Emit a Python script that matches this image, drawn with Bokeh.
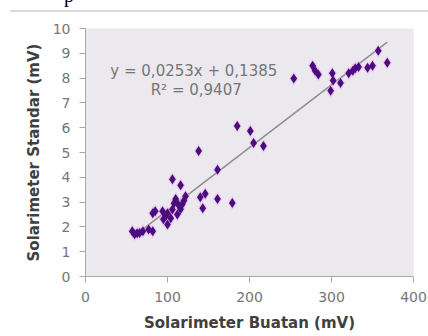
from bokeh.plotting import figure
from bokeh.models import Range1d, FixedTicker, Label, Div
from bokeh.layouts import column
from bokeh.embed import file_html
from bokeh.resources import INLINE

# data
buatan = [254, 277, 280, 284, 299, 301, 302, 311, 321, 326, 329, 333, 344, 350, 357, 368,
          138, 185, 201, 205, 217, 161,
          106, 116, 122, 110, 113, 106, 100, 94, 85, 82, 95, 100, 104, 112, 116, 118,
          140, 146, 143, 161, 179, 63, 70, 77, 82, 57, 60, 66, 108, 120, 98]
standar = [7.98, 8.5, 8.3, 8.15, 7.49, 8.2, 7.9, 7.8, 8.2, 8.3, 8.4, 8.45, 8.42, 8.5, 9.1, 8.62,
           5.06, 6.07, 5.87, 5.38, 5.26, 4.3,
           3.92, 3.68, 3.24, 3.12, 2.9, 2.7, 2.55, 2.63, 2.63, 2.55, 2.31, 2.1, 2.35, 2.5, 2.71, 2.91,
           3.2, 3.34, 2.75, 3.12, 2.96, 1.74, 1.82, 1.9, 1.82, 1.82, 1.7, 1.75, 2.95, 3.05, 2.45]
slope = 0.0253
intercept = 0.1385
r2 = 0.9407
x_ticks = [0, 100, 200, 300, 400]
y_ticks = list(range(0, 11))

top = Div(width=428, height=16, margin=0,
          text='<div style="position:relative;width:428px;height:16px;overflow:hidden;margin:0;padding:0">'
               '<div style="position:absolute;left:10px;top:10px;width:418px;height:2px;background:#dadada"></div>'
               '<span style="position:absolute;left:64px;top:-15px;font-family:\'Liberation Serif\';'
               'font-size:20px;line-height:20px;color:#000">p</span></div>')

p = figure(width=428, height=320, output_backend="svg", toolbar_location=None,
           x_range=Range1d(0, 400), y_range=Range1d(0, 10),
           min_border_left=85, min_border_right=15, min_border_top=12, min_border_bottom=60)
p.background_fill_color = "#ebe8ee"
p.border_fill_color = "white"
p.outline_line_color = None
p.grid.visible = False

tick_col = "#767676"
for ax in (p.xaxis[0], p.yaxis[0]):
    ax.axis_line_color = "#a8a8a8"
    ax.major_tick_line_color = "#a8a8a8"
    ax.minor_tick_line_color = None
    ax.major_tick_in = 0
    ax.major_tick_out = 6
    ax.major_label_text_font = "DejaVu Sans"
    ax.major_label_text_font_size = "14px"
    ax.major_label_text_color = tick_col
    ax.axis_label_text_font = "DejaVu Sans"
    ax.axis_label_text_font_size = "15px"
    ax.axis_label_text_font_style = "bold"
    ax.axis_label_text_color = "#404040"
    ax.major_label_standoff = 9

p.xaxis.ticker = FixedTicker(ticks=x_ticks)
p.yaxis.ticker = FixedTicker(ticks=y_ticks)
p.xaxis.axis_label = "Solarimeter Buatan (mV)"
p.yaxis.axis_label = "Solarimeter Standar (mV)"
p.xaxis.axis_label_standoff = 9
p.yaxis.axis_label_standoff = 7

# trend line
x0, x1 = min(buatan), max(buatan)
p.line([x0, x1], [slope * x0 + intercept, slope * x1 + intercept], line_color="#8e8e8e", line_width=1.5)

# points with soft halo
p.scatter(buatan, standar, marker="diamond", size=14, fill_color="#e8a6f2", fill_alpha=0.45, line_color=None)
p.scatter(buatan, standar, marker="diamond", size=10, fill_color="#4b0d7c", line_color=None)

eq = "y = 0,%04dx  + 0,%04d" % (round(slope * 10000), round(intercept * 10000))
p.add_layout(Label(x=135, y=8.3, text=eq, text_align="center", text_baseline="middle",
                   text_font="DejaVu Sans", text_font_size="15px", text_color="#767676"))
p.add_layout(Label(x=135, y=7.53, text="R² = 0,%04d" % round(r2 * 10000), text_align="center",
                   text_baseline="middle", text_font="DejaVu Sans", text_font_size="15px",
                   text_color="#767676"))

layout = column(top, p, spacing=0)
open("out.html", "w").write(file_html(layout, INLINE))
